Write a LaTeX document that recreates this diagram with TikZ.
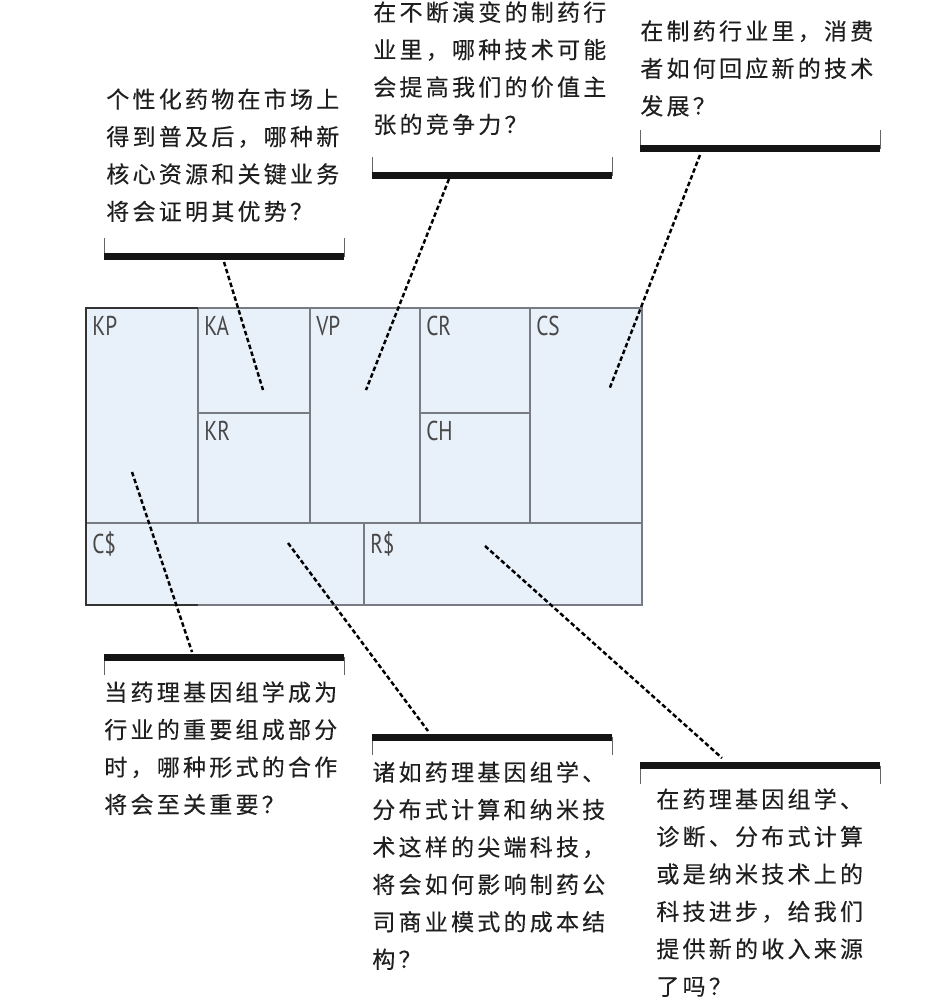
\documentclass[tikz,border=0pt]{standalone}
\usepackage{fontspec}
\newfontfamily\cjk[LetterSpace=14,FakeBold=0.25]{Noto Sans CJK SC}
\newfontfamily\feldfont[FakeStretch=0.78]{PT Sans}
\definecolor{leinwand}{RGB}{232,240,250}
\definecolor{gitter}{RGB}{120,124,130}
\tikzset{%
		feld/.style={draw=gitter,line width=0.6pt,fill=leinwand},
		rahmen/.style={draw=black!80,line width=1.3pt},
		kurz/.style={anchor=north west,inner sep=0pt,text=black!72,font=\feldfont\fontsize{15.5}{17}\selectfont},
		frage/.style={anchor=north west,inner sep=0pt,align=left,text=black!88,font=\cjk\fontsize{13.1}{21.3}\selectfont},
		balken/.style={draw=black!92,line width=0.14cm},
		haken/.style={draw=black!60,line width=0.5pt},
		zeiger/.style={draw=black,line width=1.4pt,dash pattern=on 2.6pt off 1.5pt}
	}
\newcommand{\leiste}[5]{
		\coordinate (#1-w) at (#2,#3);
		\coordinate (#1-e) at (#2+#4,#3);
		\draw[haken] (#1-w) -- ++(0,#5) (#1-e) -- ++(0,#5);
		\draw[balken] (#1-w) -- (#1-e);
		}
\begin{document}
\begin{tikzpicture}[x=0.02cm,y=-0.02cm]
    \useasboundingbox (0,0) rectangle (946,1007);
    \clip (0,0) rectangle (946,1007);
    % Leinwand
    \fill[leinwand] (86,308) rectangle (642,605);
    \draw[feld] (86,308) rectangle (198,523);
    \draw[feld] (198,308) rectangle (310,413);
    \draw[feld] (198,413) rectangle (310,523);
    \draw[feld] (310,308) rectangle (420,523);
    \draw[feld] (420,308) rectangle (530,413);
    \draw[feld] (420,413) rectangle (530,523);
    \draw[feld] (530,308) rectangle (642,523);
    \draw[feld] (86,523) rectangle (364,605);
    \draw[feld] (364,523) rectangle (642,605);
    \draw[rahmen] (198,308) -- (86,308) -- (86,605) -- (198,605);
    \node[kurz] (kp) at (92,316) {KP};
    \node[kurz] (ka) at (204,316) {KA};
    \node[kurz] (vp) at (316,316) {VP};
    \node[kurz] (cr) at (426,316) {CR};
    \node[kurz] (cs) at (536,316) {CS};
    \node[kurz] (kr) at (204,421) {KR};
    \node[kurz] (ch) at (426,421) {CH};
    \node[kurz] (ck) at (92,531) {C\$};
    \node[kurz] (rk) at (370,531) {R\$};
    % Fragen oben
    \leiste{lo}{104}{256.5}{240}{-19}
    \leiste{mo}{372}{175.5}{240}{-19}
    \leiste{ro}{640}{148.5}{240}{-19}
    \node[frage] (tka) at (106,88) {个性化药物在市场上\\得到普及后，哪种新\\核心资源和关键业务\\将会证明其优势？};
    \node[frage] (tvp) at (373,1) {在不断演变的制药行\\业里，哪种技术可能\\会提高我们的价值主\\张的竞争力？};
    \node[frage] (tcs) at (640,20) {在制药行业里，消费\\者如何回应新的技术\\发展？};
    % Fragen unten
    \leiste{lu}{104}{657}{240}{18}
    \leiste{mu}{372}{737}{240}{18}
    \leiste{ru}{640}{765.5}{240}{18}
    \node[frage] (tkp) at (104,681) {当药理基因组学成为\\行业的重要组成部分\\时，哪种形式的合作\\将会至关重要？};
    \node[frage] (tcost) at (372,761) {诸如药理基因组学、\\分布式计算和纳米技\\术这样的尖端科技，\\将会如何影响制药公\\司商业模式的成本结\\构？};
    \node[frage] (trev) at (656,788) {在药理基因组学、\\诊断、分布式计算\\或是纳米技术上的\\科技进步，给我们\\提供新的收入来源\\了吗？};
    % Zeiger
    \coordinate (lo-fuss) at (224,262);
    \coordinate (mo-fuss) at (449,179);
    \coordinate (ro-fuss) at (700,155);
    \coordinate (lu-kopf) at (192,652);
    \coordinate (mu-kopf) at (428,731);
    \coordinate (ru-kopf) at (722,758);
    \coordinate (ka-ziel) at (263,390);
    \coordinate (vp-ziel) at (366,390);
    \coordinate (cs-ziel) at (609,390);
    \coordinate (kp-ziel) at (132,472);
    \coordinate (ck-ziel) at (288,543);
    \coordinate (rk-ziel) at (485,546);
    \draw[zeiger] (lo-fuss) -- (ka-ziel);
    \draw[zeiger] (mo-fuss) -- (vp-ziel);
    \draw[zeiger] (ro-fuss) -- (cs-ziel);
    \draw[zeiger] (kp-ziel) -- (lu-kopf);
    \draw[zeiger] (ck-ziel) -- (mu-kopf);
    \draw[zeiger] (rk-ziel) -- (ru-kopf);
\end{tikzpicture}
\end{document}
